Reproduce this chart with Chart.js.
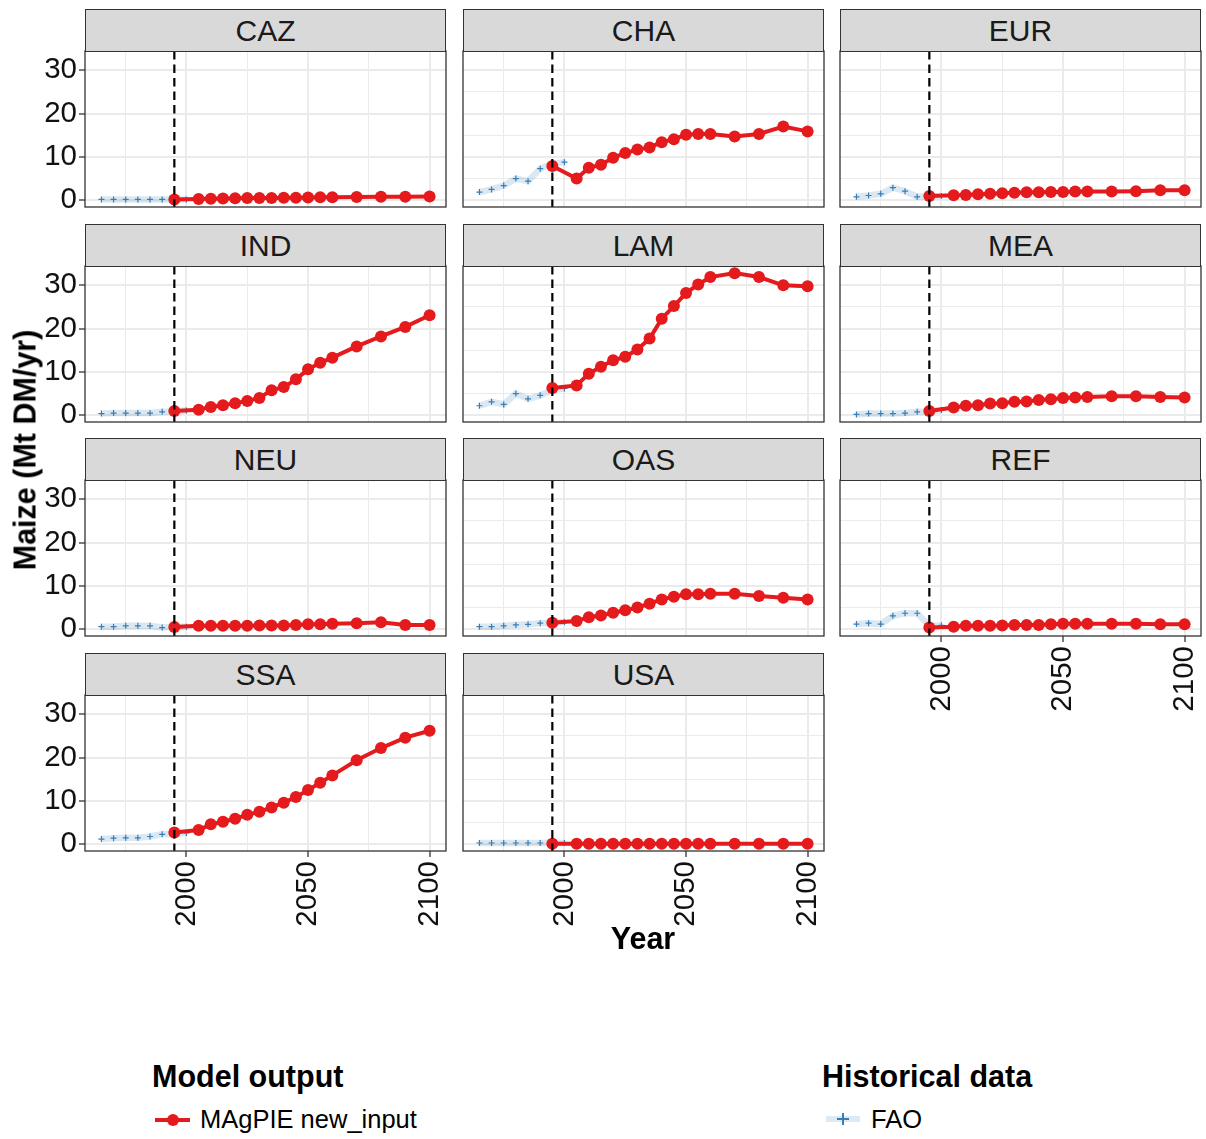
<!DOCTYPE html>
<html>
<head>
<meta charset="utf-8">
<script src="https://cdn.jsdelivr.net/npm/chart.js@4.4.0/dist/chart.umd.min.js"></script>
<style>
  html, body { margin: 0; padding: 0; background: #fff; }
  body { width: 1206px; height: 1139px; position: relative; overflow: hidden;
         font-family: "Liberation Sans", Arial, sans-serif; color: #000; }
  canvas { position: absolute; }
  .strip { position: absolute; box-sizing: border-box; background: #d9d9d9;
           border: 1.3px solid #333; color: #1a1a1a; font-size: 30px;
           display: flex; align-items: center; justify-content: center; }
  .titulo { position: absolute; font-weight: bold; font-size: 30.5px; white-space: nowrap; }
  .leyenda { position: absolute; font-size: 25.5px; white-space: nowrap; }
</style>
</head>
<body>
<div id="panel"></div>

<div class="titulo" style="left:25px; top:450px; transform: translate(-50%,-50%) rotate(-90deg);">Maize (Mt DM/yr)</div>
<div class="titulo" style="left:643px; top:938px; transform: translate(-50%,-50%);">Year</div>

<div class="titulo" style="left:152px; top:1059px;">Model output</div>
<div style="position:absolute; left:155px; top:1118px; width:35px; height:4px; background:#E41A1C;"></div>
<div style="position:absolute; left:166.5px; top:1114px; width:12px; height:12px; border-radius:50%; background:#E41A1C;"></div>
<div class="leyenda" style="left:200px; top:1105px;">MAgPIE new_input</div>

<div class="titulo" style="left:822px; top:1059px;">Historical data</div>
<div style="position:absolute; left:826px; top:1116px; width:34px; height:6px; background:rgba(55,126,184,0.17);"></div>
<div style="position:absolute; left:837px; top:1118px; width:12px; height:2px; background:#377EB8;"></div>
<div style="position:absolute; left:842px; top:1113px; width:2px; height:12px; background:#377EB8;"></div>
<div class="leyenda" style="left:871px; top:1105px;">FAO</div>

<script>
// Años de las series
const aniosModelo = [1995, 2005, 2010, 2015, 2020, 2025, 2030, 2035, 2040, 2045, 2050, 2055, 2060, 2070, 2080, 2090, 2100];
const aniosFAO = [1965, 1970, 1975, 1980, 1985, 1990, 1995, 2000];
const regiones = ['CAZ', 'CHA', 'EUR', 'IND', 'LAM', 'MEA', 'NEU', 'OAS', 'REF', 'SSA', 'USA'];

// MAgPIE new_input (Mt DM/yr)
const magpieCAZ = [0.2, 0.3, 0.35, 0.4, 0.45, 0.5, 0.5, 0.55, 0.6, 0.6, 0.65, 0.7, 0.7, 0.75, 0.8, 0.8, 0.85];
const magpieCHA = [7.9, 5.0, 7.5, 8.2, 9.8, 10.9, 11.7, 12.2, 13.4, 14.1, 15.1, 15.3, 15.3, 14.7, 15.3, 17.0, 15.9];
const magpieEUR = [1.0, 1.15, 1.2, 1.4, 1.5, 1.6, 1.75, 1.85, 1.85, 1.9, 1.9, 2.0, 2.0, 2.0, 2.1, 2.3, 2.3];
const magpieIND = [1.0, 1.3, 1.9, 2.3, 2.8, 3.3, 4.0, 5.8, 6.5, 8.3, 10.6, 12.1, 13.3, 15.9, 18.2, 20.4, 23.1];
const magpieLAM = [6.3, 6.9, 9.6, 11.2, 12.7, 13.5, 15.2, 17.7, 22.3, 25.2, 28.2, 30.2, 31.9, 32.8, 31.9, 30.0, 29.8];
const magpieMEA = [1.0, 1.8, 2.2, 2.3, 2.7, 2.8, 3.1, 3.2, 3.5, 3.7, 4.0, 4.1, 4.2, 4.4, 4.4, 4.2, 4.1];
const magpieNEU = [0.5, 0.8, 0.8, 0.8, 0.8, 0.8, 0.9, 0.9, 0.9, 1.0, 1.15, 1.15, 1.3, 1.4, 1.6, 1.0, 1.0];
const magpieOAS = [1.5, 1.9, 2.8, 3.2, 3.8, 4.4, 5.0, 5.9, 6.9, 7.5, 8.1, 8.1, 8.2, 8.2, 7.7, 7.3, 6.9];
const magpieREF = [0.4, 0.6, 0.8, 0.8, 0.8, 0.9, 1.0, 1.0, 1.0, 1.15, 1.3, 1.3, 1.3, 1.3, 1.3, 1.15, 1.15];
const magpieSSA = [2.7, 3.3, 4.6, 5.2, 5.9, 6.8, 7.5, 8.5, 9.6, 10.9, 12.5, 14.2, 15.9, 19.4, 22.2, 24.6, 26.2];
const magpieUSA = [0.15, 0.15, 0.15, 0.15, 0.15, 0.15, 0.15, 0.15, 0.15, 0.15, 0.15, 0.15, 0.15, 0.15, 0.15, 0.15, 0.15];

// Datos históricos FAO
const faoCAZ = [0.2, 0.2, 0.2, 0.2, 0.2, 0.2, 0.2, 0.2];
const faoCHA = [1.9, 2.5, 3.4, 5.0, 4.4, 7.3, 8.4, 8.8];
const faoEUR = [0.8, 1.1, 1.5, 2.9, 2.1, 0.8, 0.9, 1.0];
const faoIND = [0.4, 0.5, 0.5, 0.5, 0.5, 0.8, 0.9, 1.1];
const faoLAM = [2.2, 3.1, 2.5, 5.0, 3.8, 4.6, 5.8, 6.2];
const faoMEA = [0.2, 0.4, 0.4, 0.4, 0.5, 0.8, 0.9, 1.2];
const faoNEU = [0.6, 0.6, 0.8, 0.8, 0.8, 0.4, 0.5, 0.6];
const faoOAS = [0.6, 0.6, 0.8, 1.0, 1.15, 1.4, 1.5, 1.7];
const faoREF = [1.2, 1.4, 1.2, 3.1, 3.7, 3.7, 0.8, 0.9];
const faoSSA = [1.2, 1.4, 1.5, 1.5, 1.8, 2.3, 2.4, 2.6];
const faoUSA = [0.3, 0.3, 0.3, 0.3, 0.3, 0.3, 0.3, 0.3];

// Ejes y marcas
const ticksYMayor = [0, 10, 20, 30];
const ticksYMenor = [5, 15, 25];
const ticksXMayor = [2000, 2050, 2100];
const ticksXMenor = [1975, 2025, 2075];
const anioCorte = 1995;

const magpie = { CAZ: magpieCAZ, CHA: magpieCHA, EUR: magpieEUR, IND: magpieIND, LAM: magpieLAM, MEA: magpieMEA,
                 NEU: magpieNEU, OAS: magpieOAS, REF: magpieREF, SSA: magpieSSA, USA: magpieUSA };
const fao = { CAZ: faoCAZ, CHA: faoCHA, EUR: faoEUR, IND: faoIND, LAM: faoLAM, MEA: faoMEA,
              NEU: faoNEU, OAS: faoOAS, REF: faoREF, SSA: faoSSA, USA: faoUSA };

// Geometría de la rejilla de paneles
const COL_X = [85, 463, 840];
const FILA_Y = [51, 266, 480, 695];
const ANCHO = 361, ALTO = 156, ALTO_STRIP = 42;
const EJE_Y = 85, EJE_X = 95, M = 2;

const fuente = { family: '"Liberation Sans", Arial, sans-serif', size: 29.5 };

// Sin relleno extra de las etiquetas: el área del gráfico queda fija
function sinPadding(s) {
    s.paddingTop = 0;
    s.paddingBottom = 0;
    s.paddingLeft = 0;
    s.paddingRight = 0;
}

// Línea discontinua en el año base + borde del panel
const corteYBorde = {
    id: 'corteYBorde',
    afterDatasetsDraw(chart) {
        const { ctx, chartArea: a, scales } = chart;
        const x = scales.x.getPixelForValue(anioCorte);
        ctx.save();
        ctx.strokeStyle = '#000';
        ctx.lineWidth = 2.2;
        ctx.setLineDash([8.5, 5]);
        ctx.beginPath();
        ctx.moveTo(x, a.top);
        ctx.lineTo(x, a.bottom);
        ctx.stroke();
        ctx.restore();
    },
    afterDraw(chart) {
        const { ctx, chartArea: a } = chart;
        ctx.save();
        ctx.strokeStyle = '#333';
        ctx.lineWidth = 1.3;
        ctx.strokeRect(a.left, a.top, a.right - a.left, a.bottom - a.top);
        ctx.restore();
    }
};

function crearPanel(region, i) {
    const fila = Math.floor(i / 3), col = i % 3;
    const conEjeY = col === 0;
    // REF, SSA y USA llevan las etiquetas de años
    const conEjeX = (fila === 3) || (fila === 2 && col === 2);

    const px = COL_X[col], py = FILA_Y[fila];
    const left = conEjeY ? px - EJE_Y : px - M;
    const top = py - M;
    const w = ANCHO + M + (conEjeY ? EJE_Y : M);
    const h = ALTO + M + (conEjeX ? EJE_X : M);

    const strip = document.createElement('div');
    strip.className = 'strip';
    strip.style.left = px + 'px';
    strip.style.top = (py - ALTO_STRIP) + 'px';
    strip.style.width = ANCHO + 'px';
    strip.style.height = (ALTO_STRIP + 1) + 'px';
    strip.textContent = region;

    const canvas = document.createElement('canvas');
    canvas.style.left = left + 'px';
    canvas.style.top = top + 'px';
    canvas.style.width = w + 'px';
    canvas.style.height = h + 'px';
    canvas.width = w;
    canvas.height = h;
    const cont = document.getElementById('panel');
    cont.appendChild(canvas);
    cont.appendChild(strip);

    new Chart(canvas.getContext('2d'), {
        type: 'line',
        data: {
            datasets: [{
                label: 'MAgPIE new_input',
                data: aniosModelo.map((a, k) => ({ x: a, y: magpie[region][k] })),
                borderColor: '#E41A1C',
                backgroundColor: '#E41A1C',
                borderWidth: 4,
                pointRadius: 6,
                pointBorderWidth: 0,
                pointBackgroundColor: '#E41A1C',
                order: 0
            }, {
                label: 'FAO',
                data: aniosFAO.map((a, k) => ({ x: a, y: fao[region][k] })),
                borderColor: 'rgba(55,126,184,0.18)',
                borderWidth: 6.5,
                pointStyle: 'cross',
                pointRadius: 3,
                pointBorderWidth: 1.2,
                pointBorderColor: '#377EB8',
                order: 1
            }]
        },
        options: {
            responsive: false,
            animation: false,
            events: [],
            layout: { autoPadding: false, padding: { left: conEjeY ? 0 : M, right: M, top: M, bottom: conEjeX ? 0 : M } },
            plugins: { legend: { display: false }, tooltip: { enabled: false } },
            scales: {
                x: {
                    type: 'linear',
                    min: 1958.25, max: 2106.75,
                    afterBuildTicks: s => { s.ticks = [...ticksXMenor, ...ticksXMayor].sort().map(v => ({ value: v })); },
                    afterFit: s => { s.height = conEjeX ? EJE_X : 0; sinPadding(s); },
                    border: { display: false },
                    grid: {
                        color: '#EBEBEB',
                        lineWidth: c => ticksXMayor.includes(c.tick.value) ? 2 : 1,
                        drawTicks: conEjeX,
                        tickLength: 6,
                        tickWidth: 1.3,
                        tickColor: c => ticksXMayor.includes(c.tick.value) ? '#333' : 'rgba(0,0,0,0)'
                    },
                    ticks: {
                        display: conEjeX,
                        autoSkip: false,
                        minRotation: 90, maxRotation: 90,
                        padding: 4,
                        color: '#111',
                        font: fuente,
                        callback: v => ticksXMayor.includes(v) ? String(v) : ''
                    }
                },
                y: {
                    type: 'linear',
                    min: -1.55, max: 34.45,
                    afterBuildTicks: s => { s.ticks = [...ticksYMayor, ...ticksYMenor].sort((a, b) => a - b).map(v => ({ value: v })); },
                    afterFit: s => { s.width = conEjeY ? EJE_Y : 0; sinPadding(s); },
                    border: { display: false },
                    grid: {
                        color: '#EBEBEB',
                        lineWidth: c => ticksYMayor.includes(c.tick.value) ? 2 : 1,
                        drawTicks: conEjeY,
                        tickLength: 6,
                        tickWidth: 1.3,
                        tickColor: c => ticksYMayor.includes(c.tick.value) ? '#333' : 'rgba(0,0,0,0)'
                    },
                    ticks: {
                        display: conEjeY,
                        padding: 2,
                        color: '#111',
                        font: fuente,
                        callback: v => ticksYMayor.includes(v) ? String(v) : ''
                    }
                }
            }
        },
        plugins: [corteYBorde]
    });
}

regiones.forEach(crearPanel);
</script>
</body>
</html>
